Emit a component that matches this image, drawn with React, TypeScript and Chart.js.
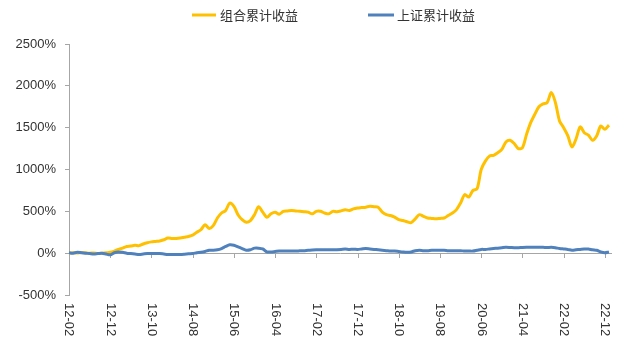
import React, { useEffect, useRef } from "react";
import { Chart, registerables } from "chart.js";

Chart.register(...registerables);

// Monthly categories 2012-02 .. 2023-01
const startYear = 2012;
const startMonth = 2;
const monthCount = 132;
const categories: string[] = [];
for (let k = 0; k < monthCount; k++) {
  const m0 = startMonth - 1 + k;
  const y = startYear + Math.floor(m0 / 12);
  const m = (m0 % 12) + 1;
  categories.push(String(y % 100).padStart(2, "0") + "-" + String(m).padStart(2, "0"));
}

const tickLabels = ["12-02", "12-12", "13-10", "14-08", "15-06", "16-04", "17-02", "17-12", "18-10", "19-08", "20-06", "21-04", "22-02", "22-12"];

const seriesNames = ["组合累计收益", "上证累计收益"];

const portfolioValues = [
  0, 5, 3, 8, 5, 0, 3, -5, 0, 5,
  10, 25, 45, 60, 80, 85, 95, 90, 110, 125,
  135, 140, 145, 160, 180, 175, 175, 180, 190, 200,
  215, 250, 280, 340, 295, 330, 420, 480, 510, 600,
  560, 460, 400, 370, 390, 460, 555, 490, 430, 470,
  490, 465, 500, 505, 510, 505, 500, 495, 490, 470,
  500, 500, 480, 470, 500, 495, 505, 520, 510, 530,
  540, 545, 550, 560, 555, 550, 490, 460, 450, 430,
  400, 390, 375, 365, 410, 460, 440, 420, 415, 410,
  415, 420, 450, 480, 520, 600, 700, 670, 750, 770,
  1000, 1100, 1160, 1170, 1200, 1240, 1330, 1350, 1310, 1250,
  1260, 1420, 1560, 1660, 1750, 1785, 1800, 1920, 1800, 1580,
  1500, 1405, 1270, 1365, 1510, 1440, 1410, 1350, 1400, 1520,
  1480, 1530,
];

const indexValues = [
  5, 0, 10, 5, 0, -5, -10, -5, 0, -10,
  -20, 5, 15, 10, 0, -5, -10, -15, -10, -5,
  -5, -5, -5, -10, -15, -15, -15, -15, -12, -8,
  -5, 5, 10, 20, 35, 35, 40, 55, 80, 100,
  95, 75, 55, 35, 40, 60, 60, 50, 15, 15,
  20, 25, 25, 25, 25, 25, 28, 30, 35, 38,
  40, 40, 40, 40, 40, 42, 45, 50, 45, 48,
  45, 50, 55, 50, 45, 40, 35, 30, 25, 25,
  20, 15, 12, 15, 30, 35, 30, 30, 35, 35,
  35, 35, 30, 30, 30, 30, 25, 25, 25, 35,
  45, 45, 50, 55, 60, 65, 70, 68, 65, 65,
  68, 70, 70, 70, 70, 70, 68, 70, 65, 55,
  50, 45, 35, 40, 45, 50, 50, 40, 35, 15,
  5, 15,
];

const yMin = -500;
const yMax = 2500;
const yStep = 500;

const COLORS = ["#FFC000", "#4F81BD"];
const AXIS_COLOR = "#A6A6A6";
const TEXT_COLOR = "#333333";
const LATIN_FONT = "'Liberation Sans', Arial, sans-serif";
const CJK_FONT = "'Noto Sans CJK SC', sans-serif";

const xAxisPlugin = {
  id: "xAxisAtZero",
  beforeDatasetsDraw(chart: any) {
    const { ctx, chartArea, scales } = chart;
    const x = scales.x;
    const y = scales.y;
    const y0 = y.getPixelForValue(0);
    ctx.save();
    ctx.strokeStyle = AXIS_COLOR;
    ctx.lineWidth = 1;
    ctx.beginPath();
    ctx.moveTo(chartArea.left, Math.round(y0) + 0.5);
    ctx.lineTo(chartArea.right + 3, Math.round(y0) + 0.5);
    tickLabels.forEach((lab) => {
      const idx = categories.indexOf(lab);
      if (idx < 0) return;
      const px = Math.round(x.getPixelForValue(idx)) + 0.5;
      ctx.moveTo(px, Math.round(y0));
      ctx.lineTo(px, Math.round(y0) + 5);
    });
    ctx.stroke();
    ctx.restore();
  },
  afterDraw(chart: any) {
    const { ctx, chartArea, scales } = chart;
    const x = scales.x;
    ctx.save();
    ctx.fillStyle = TEXT_COLOR;
    ctx.font = "13px " + LATIN_FONT;
    ctx.textAlign = "left";
    ctx.textBaseline = "middle";
    tickLabels.forEach((lab) => {
      const idx = categories.indexOf(lab);
      if (idx < 0) return;
      const px = x.getPixelForValue(idx);
      ctx.save();
      ctx.translate(px, chartArea.bottom + 8);
      ctx.rotate(Math.PI / 2);
      ctx.fillText(lab, 0, 0);
      ctx.restore();
    });
    ctx.restore();
  },
};

const legendPlugin = {
  id: "customLegend",
  afterDraw(chart: any) {
    const { ctx } = chart;
    const items = [
      { lineStart: 192, lineEnd: 216, textX: 220 },
      { lineStart: 368, lineEnd: 394, textX: 397 },
    ];
    const ly = 15;
    ctx.save();
    ctx.font = "13px " + CJK_FONT;
    ctx.textBaseline = "middle";
    ctx.textAlign = "left";
    chart.data.datasets.forEach((ds: any, i: number) => {
      const it = items[i];
      ctx.strokeStyle = ds.borderColor;
      ctx.lineWidth = 3;
      ctx.beginPath();
      ctx.moveTo(it.lineStart, ly);
      ctx.lineTo(it.lineEnd, ly);
      ctx.stroke();
      ctx.fillStyle = TEXT_COLOR;
      ctx.fillText(ds.label, it.textX, ly);
    });
    ctx.restore();
  },
};

export default function App() {
  const ref = useRef<HTMLCanvasElement | null>(null);
  useEffect(() => {
    if (!ref.current) return;
    const chart = new Chart(ref.current, {
      type: "line",
      data: {
        labels: categories,
        datasets: [
          {
            label: seriesNames[0],
            data: portfolioValues,
            borderColor: COLORS[0],
            backgroundColor: COLORS[0],
            borderWidth: 3,
            pointRadius: 0,
            tension: 0.3,
            order: 2,
          },
          {
            label: seriesNames[1],
            data: indexValues,
            borderColor: COLORS[1],
            backgroundColor: COLORS[1],
            borderWidth: 3,
            pointRadius: 0,
            tension: 0.3,
            order: 1,
          },
        ],
      },
      options: {
        responsive: false,
        animation: false,
        layout: { padding: { top: 44, bottom: 66, left: 0, right: 31 } },
        plugins: {
          legend: { display: false },
          tooltip: { enabled: false },
        },
        scales: {
          x: {
            type: "category",
            display: false,
            offset: false,
          },
          y: {
            min: yMin,
            max: yMax,
            afterFit(scale: any) {
              scale.width = 69;
            },
            ticks: {
              stepSize: yStep,
              padding: 9,
              color: TEXT_COLOR,
              font: { family: LATIN_FONT, size: 13 },
              callback: (v: any) => v + "%",
            },
            grid: {
              display: true,
              drawOnChartArea: false,
              drawTicks: true,
              tickLength: 4,
              color: AXIS_COLOR,
            },
            border: { display: true, color: AXIS_COLOR, width: 1 },
          },
        },
      },
      plugins: [xAxisPlugin, legendPlugin],
    });
    return () => chart.destroy();
  }, []);
  return (
    <canvas
      ref={ref}
      width={640}
      height={361}
      style={{ position: "absolute", left: 0, top: 0, display: "block" }}
    />
  );
}
